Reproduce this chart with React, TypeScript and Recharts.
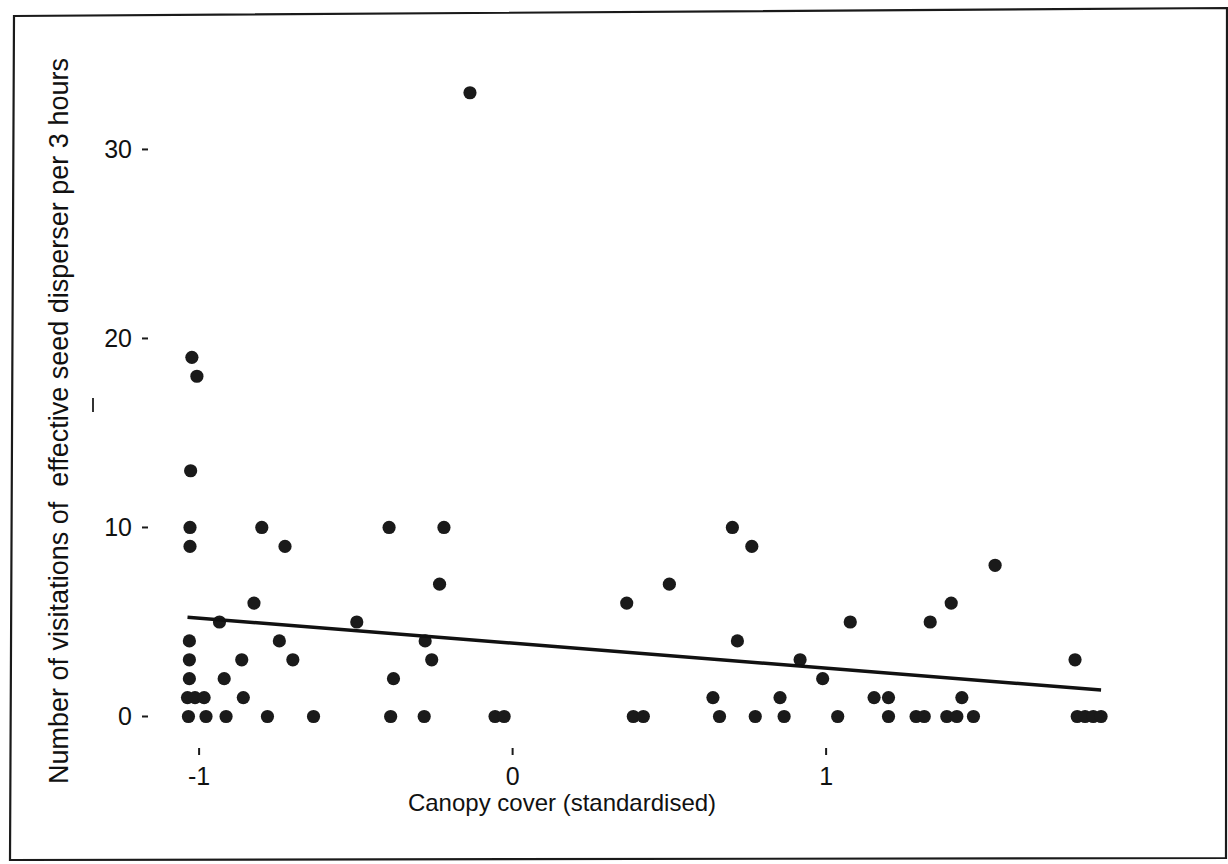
import React from 'react';
import { ScatterChart, Scatter, XAxis, YAxis } from 'recharts';

// canopy cover (standardised) per observation, grouped by count
const canopyCover = [
  // 0 visits
  -1.034, -0.978, -0.914, -0.782, -0.635, -0.389, -0.282, -0.056, -0.027, 0.385, 0.417, 0.66, 0.774,
  0.866, 1.037, 1.199, 1.287, 1.313, 1.385, 1.417, 1.47, 1.801, 1.826, 1.852, 1.877,
  // 1
  -1.037, -1.013, -0.984, -0.859, 0.639, 0.853, 1.153, 1.199, 1.433,
  // 2
  -1.031, -0.92, -0.38, 0.989,
  // 3
  -1.031, -0.864, -0.701, -0.258, 0.917, 1.794,
  // 4
  -1.031, -0.744, -0.279, 0.717,
  // 5
  -0.935, -0.497, 1.077, 1.332,
  // 6
  -0.825, 0.364, 1.399,
  // 7
  -0.233, 0.5,
  // 8
  1.539,
  // 9
  -1.029, -0.726, 0.763,
  // 10
  -1.029, -0.8, -0.394, -0.219, 0.701,
  // 13, 18, 19, 33
  -1.027, -1.007, -1.023, -0.136,
];

const visits = [
  0, 0, 0, 0, 0, 0, 0, 0, 0, 0, 0, 0, 0, 0, 0, 0, 0, 0, 0, 0, 0, 0, 0, 0, 0,
  1, 1, 1, 1, 1, 1, 1, 1, 1,
  2, 2, 2, 2,
  3, 3, 3, 3, 3, 3,
  4, 4, 4, 4,
  5, 5, 5, 5,
  6, 6, 6,
  7, 7,
  8,
  9, 9, 9,
  10, 10, 10, 10, 10,
  13, 18, 19, 33,
];

// fitted line end points
const fitCanopy = [-1.037, 1.877];
const fitVisits = [5.25, 1.4];

const xTicks = [-1, 0, 1];
const yTicks = [0, 10, 20, 30];

const points = canopyCover.map((x, i) => ({ x, y: visits[i] }));
const fitLine = fitCanopy.map((x, i) => ({ x, y: fitVisits[i] }));

const Dot = (props: any) => <circle cx={props.cx} cy={props.cy} r={6.6} fill="#1a1a1a" />;
const NoDot = () => <g />;

const font = '"Liberation Sans", Arial, sans-serif';

export default function App() {
  return (
    <div style={{ position: 'absolute', left: 0, top: 0, width: 1228, height: 864, background: '#fff', fontFamily: font, color: '#111' }}>
      {/* scanned frame, slightly skewed like the scan */}
      <svg width={1228} height={864} style={{ position: 'absolute', left: 0, top: 0 }}>
        <polygon points="14,16 1227,8 1226,858 10,860" fill="none" stroke="#1a1a1a" strokeWidth={2.2} />
        <line x1={93} y1={398} x2={93} y2={412} stroke="#333" strokeWidth={2} />
      </svg>

      <ScatterChart width={1228} height={864} margin={{ top: 40, right: 68, bottom: 76, left: 0 }} style={{ position: 'absolute', left: 0, top: 0 }}>
        <XAxis
          type="number"
          dataKey="x"
          domain={[-1.163, 2.065]}
          allowDataOverflow
          ticks={xTicks}
          interval={0}
          axisLine={false}
          tickLine={{ stroke: '#1a1a1a', strokeWidth: 2 }}
          tickSize={7}
          tickMargin={12}
          height={40}
          tick={{ fill: '#111', fontSize: 25 }}
        />
        <YAxis
          type="number"
          dataKey="y"
          domain={[-1.667, 35.79]}
          allowDataOverflow
          ticks={yTicks}
          interval={0}
          axisLine={false}
          tickLine={{ stroke: '#1a1a1a', strokeWidth: 2 }}
          tickSize={6}
          tickMargin={10}
          width={148}
          tick={{ fill: '#111', fontSize: 25 }}
        />
        <Scatter data={points} shape={Dot} isAnimationActive={false} />
        <Scatter data={fitLine} line={{ stroke: '#111', strokeWidth: 3.5 }} shape={NoDot} isAnimationActive={false} />
      </ScatterChart>

      <div style={{ position: 'absolute', left: 59, top: 421, transform: 'translate(-50%, -50%) rotate(-90deg)', whiteSpace: 'pre', fontSize: 27, lineHeight: 1 }}>
        Number of visitations of  effective seed disperser per 3 hours
      </div>
      <div style={{ position: 'absolute', left: 562, top: 803, transform: 'translate(-50%, -50%)', whiteSpace: 'pre', fontSize: 24, lineHeight: 1 }}>
        Canopy cover (standardised)
      </div>
    </div>
  );
}
